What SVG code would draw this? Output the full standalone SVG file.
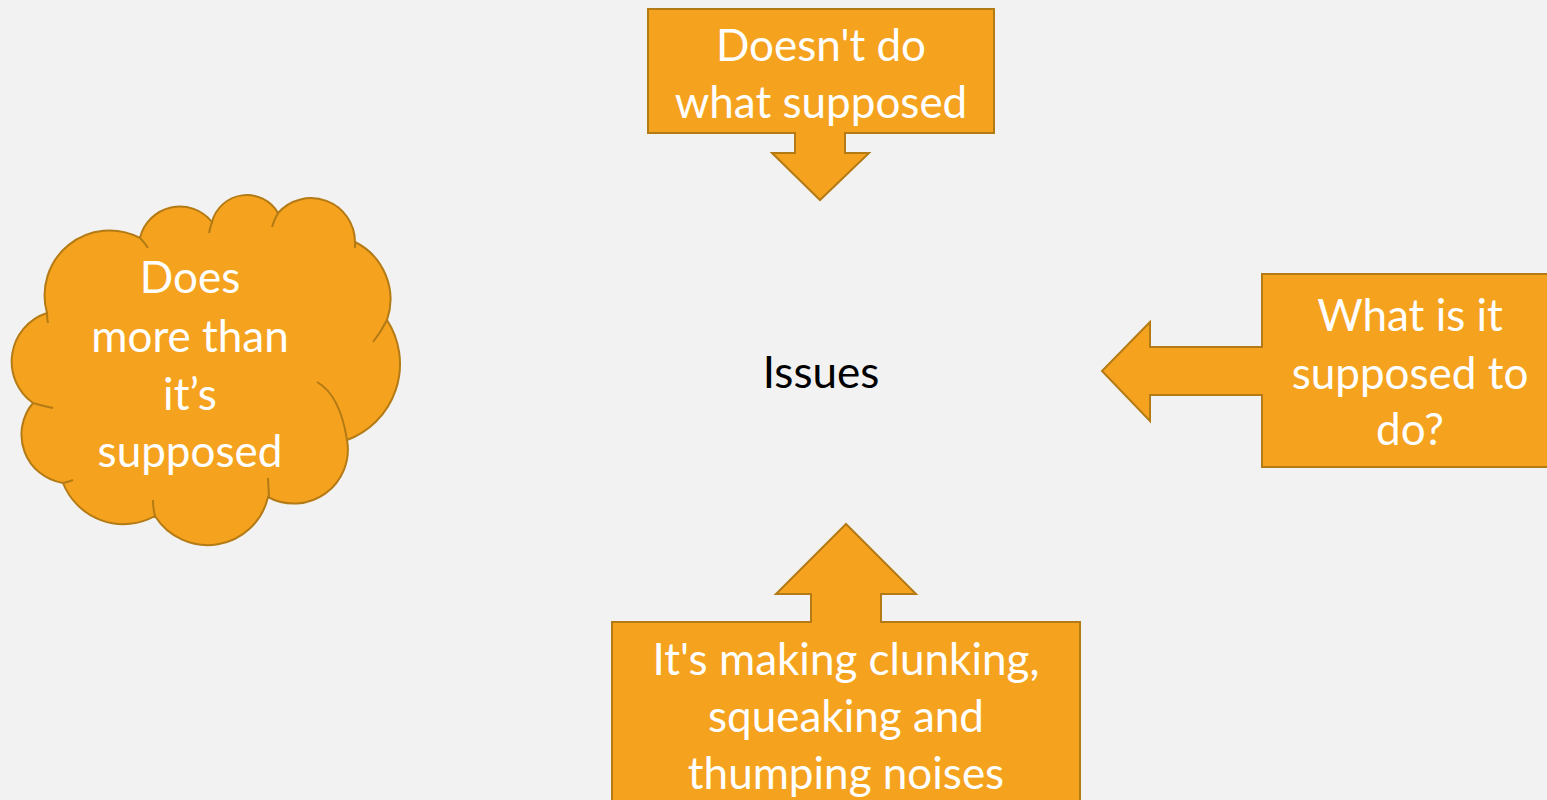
<svg xmlns="http://www.w3.org/2000/svg" width="1547" height="800" viewBox="0 0 1547 800">
<style>
.shape{fill:#F5A31F;stroke:#B47A14;stroke-width:2;stroke-linejoin:miter}
.inner{fill:none;stroke:#B47A14;stroke-width:2}
.lbl{font-family:Lato,"Open Sans",sans-serif;font-size:44px;fill:#FFFFFF;text-anchor:middle}
.center{font-family:Lato,"Open Sans",sans-serif;font-size:44px;fill:#000000;text-anchor:middle}
</style>
<rect x="0" y="0" width="1547" height="800" fill="#F2F2F2"/>
<g id="connectors"></g>
<g id="issues">
<text class="center" x="821" y="388">Issues</text>
</g>
<g id="top-callout">
<polygon class="shape" points="648,9 994,9 994,133 845,133 845,153 869,153 820,200 772,153 795,153 795,133 648,133"/>
<text class="lbl" x="821" y="61">Doesn't do</text>
<text class="lbl" x="821" y="118">what supposed</text>
</g>
<g id="right-callout">
<polygon class="shape" points="1262,274 1560,274 1560,467 1262,467 1262,395 1150,395 1150,421 1102,371 1150,322 1150,347 1262,347"/>
<text class="lbl" x="1410" y="331">What is it</text>
<text class="lbl" x="1410" y="389">supposed to</text>
<text class="lbl" x="1410" y="445">do?</text>
</g>
<g id="bottom-callout">
<polygon class="shape" points="612,622 811,622 811,594 776,594 846,524 916,594 881,594 881,622 1080,622 1080,812 612,812"/>
<text class="lbl" x="846" y="675">It's making clunking,</text>
<text class="lbl" x="846" y="732">squeaking and</text>
<text class="lbl" x="846" y="789">thumping noises</text>
</g>
<g id="cloud">
<path class="shape" d="M47,313 A65,65 0 0 1 140,238 A41,41 0 0 1 212,222 A36,36 0 0 1 278,213 A44,44 0 0 1 355,242 A64,64 0 0 1 387,320 A81,81 0 0 1 347,440 A54,54 0 0 1 268,497 A62,62 0 0 1 155,516 A65,65 0 0 1 63,483 A49,49 0 0 1 33,403 A51,51 0 0 1 47,313 Z"/>
<path class="inner" d="M47,313 Q47,318 48,323 M140,238 Q145,243 148,248 M212,222 Q210,228 209,233 M278,213 Q274,220 272,227 M355,242 L355,248 M387,320 Q381,332 373,342 M317,382 Q340,395 347,440 M269,497 L268,478 M155,516 Q153,508 153,500 M63,483 Q68,482 73,480 M33,403 Q43,406 53,408"/>
<text class="lbl" x="190" y="293">Does</text>
<text class="lbl" x="190" y="352">more than</text>
<text class="lbl" x="190" y="410">it’s</text>
<text class="lbl" x="190" y="467">supposed</text>
</g>
</svg>
